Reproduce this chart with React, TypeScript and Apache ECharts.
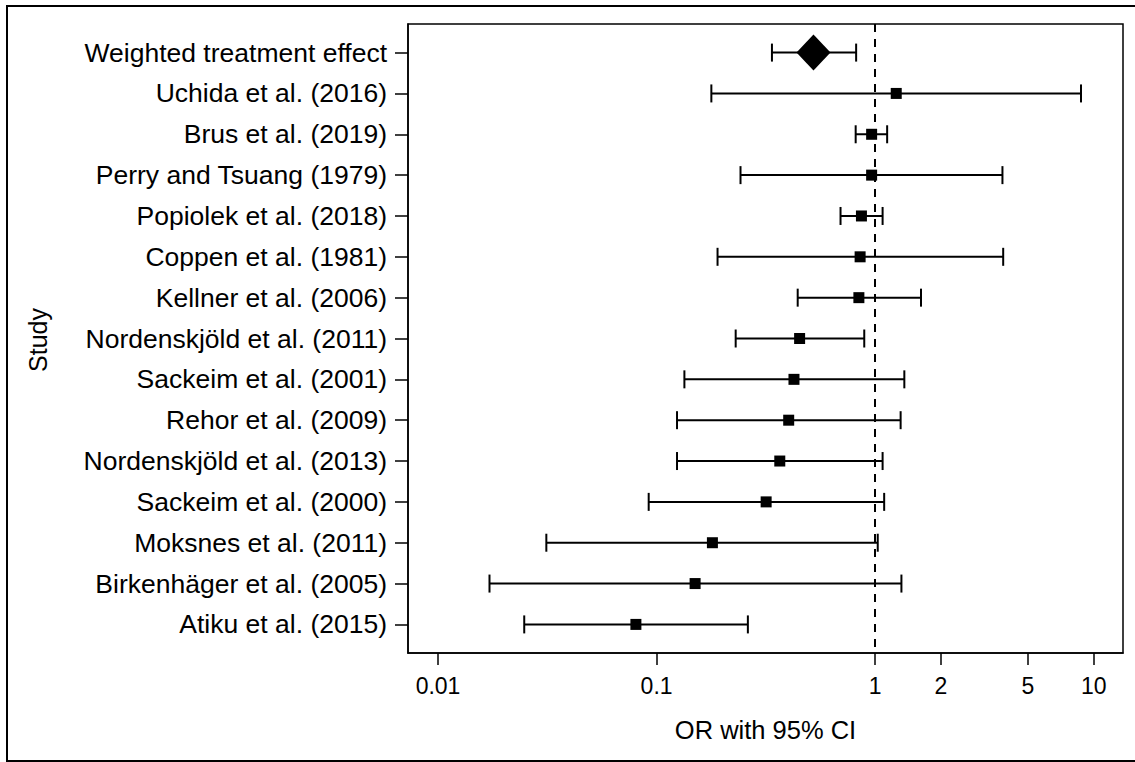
import React, { useEffect, useRef } from "react";
import * as echarts from "echarts";

const studies = [
  "Weighted treatment effect",
  "Uchida et al. (2016)",
  "Brus et al. (2019)",
  "Perry and Tsuang (1979)",
  "Popiolek et al. (2018)",
  "Coppen et al. (1981)",
  "Kellner et al. (2006)",
  "Nordenskjöld et al. (2011)",
  "Sackeim et al. (2001)",
  "Rehor et al. (2009)",
  "Nordenskjöld et al. (2013)",
  "Sackeim et al. (2000)",
  "Moksnes et al. (2011)",
  "Birkenhäger et al. (2005)",
  "Atiku et al. (2015)",
];
const orValues = [0.522, 1.248, 0.963, 0.963, 0.865, 0.853, 0.842, 0.451, 0.425, 0.402, 0.366, 0.317, 0.18, 0.15, 0.0804];
const ciLower = [0.337, 0.178, 0.814, 0.242, 0.694, 0.19, 0.442, 0.23, 0.134, 0.124, 0.124, 0.092, 0.0313, 0.0172, 0.0248];
const ciUpper = [0.818, 8.74, 1.134, 3.82, 1.081, 3.85, 1.62, 0.891, 1.359, 1.307, 1.081, 1.099, 1.027, 1.318, 0.2615];
const xTicks = [0.01, 0.1, 1, 2, 5, 10];
const rowIdx = studies.map((_, i) => i);

const FONT = "'Liberation Sans', Arial, Helvetica, sans-serif";

export default function App() {
  const ref = useRef<HTMLDivElement>(null);
  useEffect(() => {
    if (!ref.current) return;
    const chart = echarts.init(ref.current, null, { renderer: "svg" });
    const errData = studies.map((_, i) => [ciLower[i], ciUpper[i], i]);
    const sqData = studies.map((_, i) => [orValues[i], i]).filter((_, i) => i > 0);
    const dmData = [[orValues[0], 0]];
    const fmtX = (v: number) => String(Number(Number(v).toPrecision(3)));
    chart.setOption({
      animation: false,
      backgroundColor: "#fff",
      textStyle: { fontFamily: FONT, color: "#000" },
      grid: {
        left: 408,
        top: 24,
        width: 715,
        height: 629,
        show: true,
        borderColor: "#000",
        borderWidth: 1.5,
        containLabel: false,
      },
      xAxis: {
        type: "log",
        logBase: 10,
        min: 0.00729,
        max: 13.6,
        name: "OR with 95% CI",
        nameLocation: "middle",
        nameGap: 64,
        nameTextStyle: { fontSize: 25.5, color: "#000", fontFamily: FONT },
        axisLine: { show: true, onZero: false, lineStyle: { color: "#000", width: 1.5 } },
        axisTick: { show: true, length: 12, lineStyle: { color: "#000", width: 1.5 }, customValues: xTicks },
        axisLabel: {
          show: true,
          margin: 21,
          fontSize: 23,
          color: "#000",
          fontFamily: FONT,
          customValues: xTicks,
          formatter: (v: number) => fmtX(v),
        },
        splitLine: { show: false },
        minorTick: { show: false },
      },
      yAxis: {
        type: "value",
        inverse: true,
        min: -0.7,
        max: 14.7,
        axisLine: { show: true, onZero: false, lineStyle: { color: "#000", width: 1.5 } },
        axisTick: { show: true, length: 13, lineStyle: { color: "#000", width: 1.5 }, customValues: rowIdx },
        axisLabel: {
          show: true,
          margin: 21,
          fontSize: 26.5,
          color: "#000",
          fontFamily: FONT,
          customValues: rowIdx,
          formatter: (v: number) => studies[Math.round(v)] ?? "",
        },
        splitLine: { show: false },
      },
      graphic: [
        {
          type: "rect",
          shape: { x: 7, y: 6, width: 1140, height: 755 },
          style: { fill: "none", stroke: "#000", lineWidth: 2 },
          silent: true,
          z: 100,
        },
        {
          type: "text",
          x: 38,
          y: 340,
          rotation: Math.PI / 2,
          style: {
            text: "Study",
            fontSize: 25,
            fontFamily: FONT,
            fill: "#000",
            align: "center",
            verticalAlign: "middle",
          },
        },
      ],
      series: [
        {
          type: "custom",
          name: "CI",
          data: errData,
          encode: { x: [0, 1], y: 2 },
          z: 3,
          renderItem: (params: any, api: any) => {
            const lo = api.coord([api.value(0), api.value(2)]);
            const hi = api.coord([api.value(1), api.value(2)]);
            const c = 9;
            const st = { stroke: "#000", lineWidth: 2 };
            return {
              type: "group",
              children: [
                { type: "line", shape: { x1: lo[0], y1: lo[1], x2: hi[0], y2: hi[1] }, style: st },
                { type: "line", shape: { x1: lo[0], y1: lo[1] - c, x2: lo[0], y2: lo[1] + c }, style: st },
                { type: "line", shape: { x1: hi[0], y1: hi[1] - c, x2: hi[0], y2: hi[1] + c }, style: st },
              ],
            };
          },
        },
        {
          type: "scatter",
          name: "OR",
          data: sqData,
          symbol: "rect",
          symbolSize: 11,
          itemStyle: { color: "#000", opacity: 1 },
          z: 5,
          markLine: {
            silent: true,
            symbol: ["none", "none"],
            label: { show: false },
            lineStyle: { color: "#000", type: [8, 7], width: 2, opacity: 1 },
            data: [{ xAxis: 1 }],
            z: 2,
          },
        },
        {
          type: "scatter",
          name: "Weighted",
          data: dmData,
          symbol: "diamond",
          symbolSize: [34, 36],
          itemStyle: { color: "#000", opacity: 1 },
          z: 6,
        },
      ],
    });
    return () => chart.dispose();
  }, []);
  return (
    <div
      ref={ref}
      style={{ position: "fixed", left: 0, top: 0, width: 1135, height: 762, background: "#fff" }}
    />
  );
}
